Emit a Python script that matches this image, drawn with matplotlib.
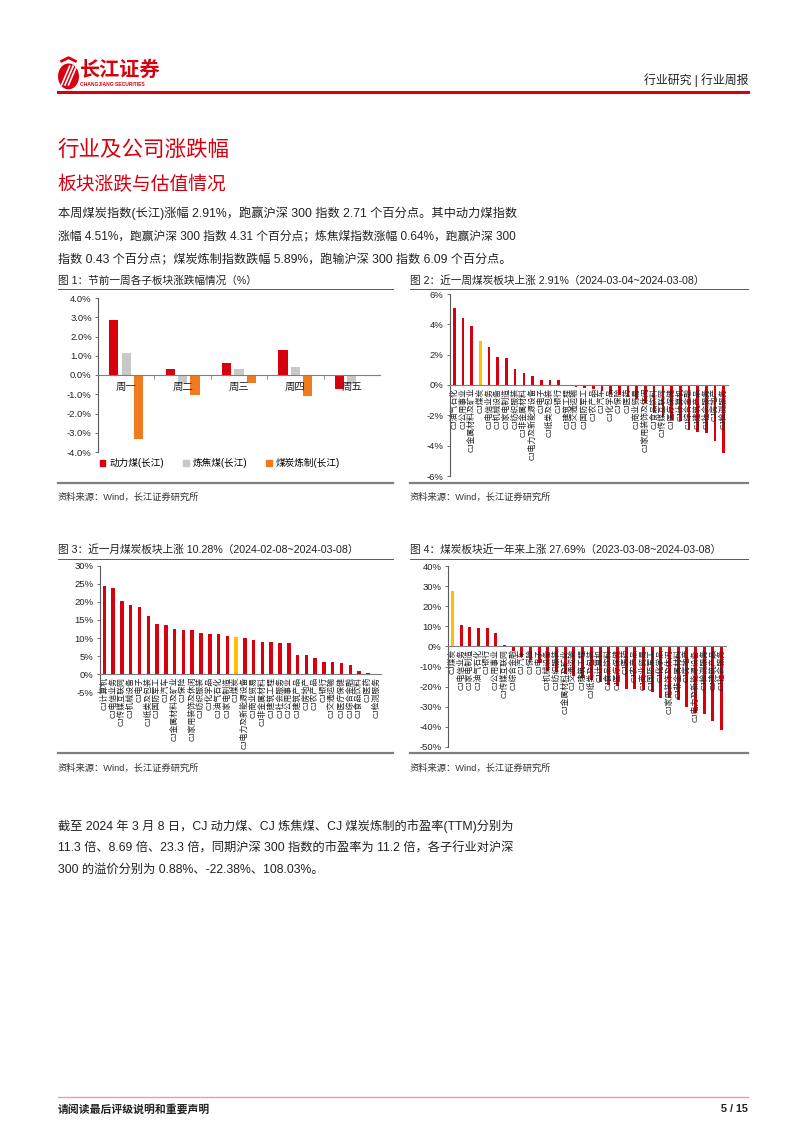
import matplotlib.pyplot as plt
from matplotlib.lines import Line2D
from matplotlib.patches import Ellipse, Patch
from matplotlib.ticker import FuncFormatter
import numpy as np

plt.rcParams['font.family'] = ['Liberation Sans', 'Noto Sans CJK SC']
plt.rcParams['axes.unicode_minus'] = False

W, H = 802, 1133
RED = '#D7000F'
GOLD = '#FFC000'
GREY = '#C8C8C8'
ORANGE = '#F07A1E'
TXT = '#222222'

# ---- data ----
days = ['周一', '周二', '周三', '周四', '周五']
power_coal = [2.87, 0.33, 0.64, 1.29, -0.73]
coking_coal = [1.15, -0.49, 0.31, 0.42, -0.49]
coal_refine = [-3.34, -1.04, -0.40, -1.08, -0.02]

cats_week = ['CJ油气石化', 'CJ公用事业', 'CJ金属材料及矿业', 'CJ煤炭', 'CJ电信业务', 'CJ机械设备',
             'CJ家电制造', 'CJ纺织服装', 'CJ非金属材料', 'CJ电力及新能源设备', 'CJ电子', 'CJ纸类及包装',
             'CJ银行', 'CJ建筑工程', 'CJ交通运输', 'CJ国防军工', 'CJ农产品', 'CJ汽车', 'CJ化学品',
             'CJ保险', 'CJ医药', 'CJ商业贸易', 'CJ家用装饰及休闲', 'CJ食品饮料', 'CJ传媒互联网',
             'CJ医疗保健', 'CJ计算机', 'CJ综合金融', 'CJ建筑产品', 'CJ社会服务', 'CJ房地产', 'CJ检测服务']
vals_week = [5.07, 4.42, 3.87, 2.91, 2.49, 1.83, 1.76, 1.06, 0.78, 0.59, 0.33, 0.31, 0.31, 0.02,
             -0.10, -0.22, -0.26, -0.37, -0.60, -0.66, -0.77, -0.92, -1.21, -1.76, -2.05, -2.29,
             -2.36, -2.97, -3.08, -3.19, -3.70, -4.47]

cats_month = ['CJ计算机', 'CJ电信业务', 'CJ传媒互联网', 'CJ机械设备', 'CJ电子', 'CJ纸类及包装',
              'CJ国防军工', 'CJ汽车', 'CJ金属材料及矿业', 'CJ保险', 'CJ家用装饰及休闲', 'CJ纺织服装',
              'CJ化学品', 'CJ油气石化', 'CJ家电制造', 'CJ煤炭', 'CJ电力及新能源设备', 'CJ商业贸易',
              'CJ非金属材料', 'CJ建筑工程', 'CJ社会服务', 'CJ公用事业', 'CJ建筑产品', 'CJ房地产',
              'CJ农产品', 'CJ银行', 'CJ交通运输', 'CJ医疗保健', 'CJ综合金融', 'CJ食品饮料', 'CJ医药',
              'CJ检测服务']
vals_month = [24.5, 23.9, 20.4, 19.2, 18.5, 16.0, 13.8, 13.7, 12.6, 12.3, 12.1, 11.4, 11.2, 11.0,
              10.5, 10.28, 9.9, 9.5, 8.8, 8.8, 8.6, 8.5, 5.4, 5.3, 4.4, 3.4, 3.4, 3.1, 2.5, 0.7,
              0.3, 0.1]

cats_year = ['CJ煤炭', 'CJ电信业务', 'CJ家电制造', 'CJ油气石化', 'CJ银行', 'CJ公用事业',
             'CJ传媒互联网', 'CJ综合金融', 'CJ汽车', 'CJ保险', 'CJ电子', 'CJ机械设备', 'CJ纺织服装',
             'CJ金属材料及矿业', 'CJ交通运输', 'CJ建筑工程', 'CJ纸类及包装', 'CJ计算机', 'CJ食品饮料',
             'CJ医疗保健', 'CJ医药', 'CJ农产品', 'CJ商业贸易', 'CJ国防军工', 'CJ化学品',
             'CJ家用装饰及休闲', 'CJ非金属材料', 'CJ房地产', 'CJ电力及新能源设备', 'CJ检测服务',
             'CJ建筑产品', 'CJ社会服务']
vals_year = [27.69, 10.5, 9.8, 9.3, 9.1, 6.9, 0.8, -2.5, -5.3, -6.6, -8.1, -12.4, -12.7, -13.6,
             -14.7, -15.6, -16.9, -17.7, -19.2, -19.7, -21.0, -21.0, -21.7, -22.7, -25.8, -25.8,
             -26.7, -30.1, -32.9, -33.4, -36.9, -41.4]

fig = plt.figure(figsize=(W / 100, H / 100), dpi=100)
fig.patch.set_facecolor('white')


def px_axes(x0, y0, x1, y1):
    return fig.add_axes([x0 / W, 1 - y1 / H, (x1 - x0) / W, (y1 - y0) / H])


def txt(x, y, s, **kw):
    kw.setdefault('va', 'center')
    kw.setdefault('color', TXT)
    fig.text(x / W, 1 - y / H, s, **kw)


def hline(x0, x1, y, color, lw):
    fig.add_artist(Line2D([x0 / W, x1 / W], [1 - y / H, 1 - y / H], color=color, lw=lw))


# ===== Header =====
logo = px_axes(57, 56, 80, 90)
logo.set_xlim(0, 1)
logo.set_ylim(0, 1)
logo.axis('off')
logo.add_patch(Ellipse((0.5, 0.4), 0.85, 0.72, color=RED))
for k in range(3):
    logo.plot([0.2 + 0.15 * k, 0.55 + 0.15 * k], [0.15, 0.7], color='white', lw=1.2)
logo.plot([0.2, 0.5, 0.8], [0.85, 0.95, 0.85], color=RED, lw=2)
txt(80, 70, '长江证券', fontsize=14.5, color=RED, weight='bold')
txt(80, 84, 'CHANGJIANG SECURITIES', fontsize=3.6, color=RED, weight='bold')
txt(748, 80, '行业研究 | 行业周报', fontsize=8.6, ha='right')
hline(58, 748, 92, RED, 2.2)

# ===== Titles and body =====
txt(57, 150, '行业及公司涨跌幅', fontsize=15.5, color=RED)
txt(57, 185, '板块涨跌与估值情况', fontsize=13.5, color=RED)
body1 = ['本周煤炭指数(长江)涨幅 2.91%，跑赢沪深 300 指数 2.71 个百分点。其中动力煤指数',
         '涨幅 4.51%，跑赢沪深 300 指数 4.31 个百分点；炼焦煤指数涨幅 0.64%，跑赢沪深 300',
         '指数 0.43 个百分点；煤炭炼制指数跌幅 5.89%，跑输沪深 300 指数 6.09 个百分点。']
body1_size = [8.8, 8.5, 8.7]
for i, line in enumerate(body1):
    txt(58, 213 + 23.5 * i, line, fontsize=body1_size[i])

body2 = ['截至 2024 年 3 月 8 日，CJ 动力煤、CJ 炼焦煤、CJ 煤炭炼制的市盈率(TTM)分别为',
         '11.3 倍、8.69 倍、23.3 倍，同期沪深 300 指数的市盈率为 11.2 倍，各子行业对沪深',
         '300 的溢价分别为 0.88%、-22.38%、108.03%。']
for i, line in enumerate(body2):
    txt(58, 826 + 22 * i, line, fontsize=8.8)

# ===== Captions, frame lines and sources =====
captions = [(58, 281, '图 1：节前一周各子板块涨跌幅情况（%）'),
            (410, 281, '图 2：近一周煤炭板块上涨 2.91%（2024-03-04~2024-03-08）'),
            (58, 550, '图 3：近一月煤炭板块上涨 10.28%（2024-02-08~2024-03-08）'),
            (410, 550, '图 4：煤炭板块近一年来上涨 27.69%（2023-03-08~2024-03-08）')]
for x, y, s in captions:
    txt(x, y, s, fontsize=7.7)
for x0, x1 in [(58, 393), (410, 748)]:
    hline(x0, x1, 288.5, '#595959', 0.7)
    hline(x0, x1, 483, '#7F7F7F', 1.6)
    txt(x0, 497, '资料来源：Wind，长江证券研究所', fontsize=6.7, color='#333333')
    hline(x0, x1, 558.5, '#595959', 0.7)
    hline(x0, x1, 753, '#7F7F7F', 1.6)
    txt(x0, 768, '资料来源：Wind，长江证券研究所', fontsize=6.7, color='#333333')

# footer
hline(58, 748, 1097, '#EE9AA4', 1.0)
txt(58, 1109, '请阅读最后评级说明和重要声明', fontsize=7.8, weight='bold')
txt(748, 1109, '5 / 15', fontsize=7.8, weight='bold', ha='right')


def style_axis(ax, fmt):
    for s in ['top', 'right']:
        ax.spines[s].set_visible(False)
    ax.spines['left'].set_color('#595959')
    ax.spines['left'].set_linewidth(0.8)
    ax.spines['bottom'].set_position(('data', 0))
    ax.spines['bottom'].set_color('#7F7F7F')
    ax.spines['bottom'].set_linewidth(0.8)
    ax.yaxis.set_major_formatter(FuncFormatter(fmt))
    ax.tick_params(axis='y', labelsize=6.8, length=2.5, width=0.6, color='#595959',
                   pad=2, labelcolor=TXT)
    ax.set_facecolor('none')


# ===== Chart 1 =====
ax1 = px_axes(98, 298, 380, 452)
x = np.arange(len(days))
w = 0.16
ax1.bar(x - 0.22, power_coal, w, color=RED, label='动力煤(长江)')
ax1.bar(x, coking_coal, w, color=GREY, label='炼焦煤(长江)')
ax1.bar(x + 0.22, coal_refine, w, color=ORANGE, label='煤炭炼制(长江)')
ax1.set_xlim(-0.5, 4.5)
ax1.set_ylim(-4, 4)
ax1.set_yticks(np.arange(-4, 4.01, 1))
style_axis(ax1, lambda v, p: f'{v:.1f}%')
ax1.set_xticks(x)
ax1.set_xticklabels(days)
ax1.set_xticks(np.arange(0.5, 4, 1), minor=True)
ax1.tick_params(axis='x', which='major', length=0, labelsize=7.5, pad=5, labelcolor=TXT)
ax1.tick_params(axis='x', which='minor', length=3, width=0.6, color='#7F7F7F')
handles = [Patch(color=RED), Patch(color=GREY), Patch(color=ORANGE)]
fig.legend(handles, ['动力煤(长江)', '炼焦煤(长江)', '煤炭炼制(长江)'],
           loc='center', bbox_to_anchor=(220 / W, 1 - 463 / H), ncol=3, frameon=False,
           fontsize=6.9, handlelength=0.6, handleheight=0.6, handletextpad=0.4,
           columnspacing=2.0)


# ===== Bar rank charts =====
def rank_chart(box, cats, vals, ylim, step, width):
    ax = px_axes(*box)
    xs = np.arange(len(cats))
    colors = [GOLD if c == 'CJ煤炭' else RED for c in cats]
    ax.bar(xs, vals, width, color=colors)
    ax.set_xlim(-0.5, len(cats) - 0.5)
    ax.set_ylim(*ylim)
    ax.set_yticks(np.arange(ylim[0], ylim[1] + 0.01, step))
    style_axis(ax, lambda v, p: f'{v:.0f}%')
    ax.set_xticks(xs)
    ax.set_xticklabels(cats, rotation=90, va='top', ha='center')
    ax.tick_params(axis='x', length=0, labelsize=5.7, pad=2, labelcolor=TXT)
    return ax


rank_chart((450, 294, 728, 476), cats_week, vals_week, (-6, 6), 2, 0.3)
rank_chart((100, 566, 381, 692), cats_month, vals_month, (-5, 30), 5, 0.4)
rank_chart((448, 566, 726, 747), cats_year, vals_year, (-50, 40), 10, 0.35)

fig.savefig('out.png', dpi=100, facecolor='white')
